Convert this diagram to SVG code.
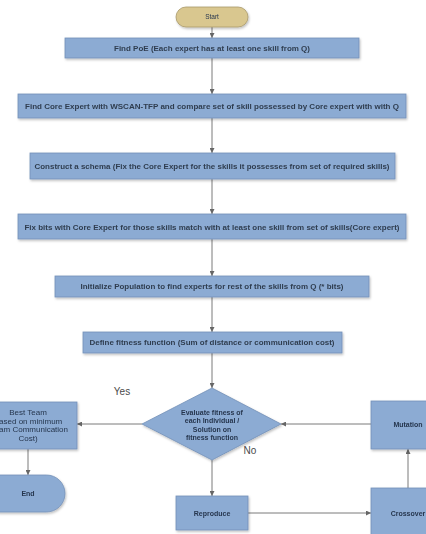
<svg xmlns="http://www.w3.org/2000/svg" width="426" height="534" viewBox="0 0 426 534">
<style>
.box{fill:#8cabd3;stroke:#7390b8;stroke-width:0.8}
.term{fill:#d9c78f;stroke:#a9996a;stroke-width:0.8}
.t{font-family:"Liberation Sans",Arial,sans-serif;font-size:7px;font-weight:bold;fill:#2f3d4f;text-anchor:middle}
.r{font-family:"Liberation Sans",Arial,sans-serif;font-size:7.5px;fill:#26364e;text-anchor:middle}
.b{font-weight:bold;font-size:7px}
.lbl{font-family:"Liberation Sans",Arial,sans-serif;font-size:10px;fill:#4a4a4a;text-anchor:middle}
.c{stroke:#7a7a7a;stroke-width:1;fill:none;marker-end:url(#ah)}
</style>
<defs>
<marker id="ah" viewBox="0 0 10 10" refX="10" refY="5" markerWidth="5" markerHeight="5" orient="auto" markerUnits="userSpaceOnUse"><path d="M0,0 L10,5 L0,10 z" fill="#666"/></marker>
<filter id="sh" x="-10%" y="-20%" width="120%" height="160%"><feDropShadow dx="1" dy="1.5" stdDeviation="0.8" flood-color="#000" flood-opacity="0.25"/></filter>
</defs>
<rect width="426" height="534" fill="#ffffff"/>
<g id="connectors">
<line class="c" x1="212" y1="27" x2="212" y2="38"/>
<line class="c" x1="212" y1="58" x2="212" y2="94"/>
<line class="c" x1="212" y1="118" x2="212" y2="153"/>
<line class="c" x1="212" y1="179" x2="212" y2="214"/>
<line class="c" x1="212" y1="239" x2="212" y2="276"/>
<line class="c" x1="212" y1="297" x2="212" y2="332"/>
<line class="c" x1="212" y1="353" x2="212" y2="388"/>
<line class="c" x1="142" y1="424" x2="77" y2="424"/>
<line class="c" x1="28" y1="449" x2="28" y2="475"/>
<line class="c" x1="212" y1="460" x2="212" y2="496"/>
<line class="c" x1="248" y1="513" x2="371" y2="513"/>
<line class="c" x1="408" y1="488" x2="408" y2="449"/>
<line class="c" x1="371" y1="424" x2="281" y2="424"/>
<text class="lbl" x="122" y="395">Yes</text>
<text class="lbl" x="250" y="454">No</text>
</g>
<g id="start" filter="url(#sh)">
<rect class="term" x="176" y="7" width="72" height="20" rx="10"/>
<text class="r" x="212" y="19" style="font-size:6.5px">Start</text>
</g>
<g id="findPoE" filter="url(#sh)">
<rect class="box" x="65" y="38" width="294" height="20"/>
<text class="t" x="212" y="50.5" textLength="196" lengthAdjust="spacingAndGlyphs">Find PoE (Each expert has at least one skill from Q)</text>
</g>
<g id="coreExpert" filter="url(#sh)">
<rect class="box" x="18" y="94" width="388" height="24"/>
<text class="t" x="212" y="108.5" textLength="374" lengthAdjust="spacingAndGlyphs">Find Core Expert with WSCAN-TFP and compare set of skill possessed by Core expert with  with Q</text>
</g>
<g id="schema" filter="url(#sh)">
<rect class="box" x="30" y="153" width="365" height="26"/>
<text class="t" x="212" y="168.5" textLength="355" lengthAdjust="spacingAndGlyphs">Construct a schema (Fix the Core Expert for the skills it possesses from set of required skills)</text>
</g>
<g id="fixBits" filter="url(#sh)">
<rect class="box" x="18" y="214" width="388" height="25"/>
<text class="t" x="212" y="229.5" textLength="375" lengthAdjust="spacingAndGlyphs">Fix bits with Core Expert for those skills match with at least one skill from set of skills(Core expert)</text>
</g>
<g id="initPop" filter="url(#sh)">
<rect class="box" x="55" y="276" width="314" height="21"/>
<text class="t" x="212" y="288.5" textLength="263" lengthAdjust="spacingAndGlyphs">Initialize Population to find experts for rest of the skills from Q (* bits)</text>
</g>
<g id="fitness" filter="url(#sh)">
<rect class="box" x="83" y="332" width="259" height="21"/>
<text class="t" x="212" y="344.5" textLength="245" lengthAdjust="spacingAndGlyphs">Define fitness function (Sum of distance or communication cost)</text>
</g>
<g id="evaluate" filter="url(#sh)">
<polygon class="box" points="212,388 281,424 212,460 142,424"/>
<text class="r" x="212" y="414.5" style="font-weight:bold;font-size:7px">Evaluate fitness of</text>
<text class="r" x="212" y="423" style="font-weight:bold;font-size:7px">each Individual /</text>
<text class="r" x="212" y="431.5" style="font-weight:bold;font-size:7px">Solution on</text>
<text class="r" x="212" y="440" style="font-weight:bold;font-size:7px">fitness function</text>
</g>
<g id="bestTeam" filter="url(#sh)">
<rect class="box" x="-22" y="402" width="99" height="47"/>
<text class="r" x="28" y="415" style="font-size:8px">Best Team</text>
<text class="r" x="28" y="423.5" style="font-size:8px">Based on minimum</text>
<text class="r" x="28" y="432" style="font-size:8px">(Team Communication</text>
<text class="r" x="28" y="440.5" style="font-size:8px">Cost)</text>
</g>
<g id="end" filter="url(#sh)">
<rect class="box" x="-20" y="475" width="85" height="37" rx="18.5"/>
<text class="r" x="28" y="496" style="font-weight:bold;font-size:7px">End</text>
</g>
<g id="reproduce" filter="url(#sh)">
<rect class="box" x="176" y="496" width="72" height="34"/>
<text class="r" x="212" y="516" style="font-weight:bold;font-size:7px">Reproduce</text>
</g>
<g id="crossover" filter="url(#sh)">
<rect class="box" x="371" y="488" width="75" height="56"/>
<text class="r" x="408" y="516" style="font-weight:bold;font-size:7px">Crossover</text>
</g>
<g id="mutation" filter="url(#sh)">
<rect class="box" x="371" y="401" width="75" height="48"/>
<text class="r" x="408" y="427" style="font-weight:bold;font-size:7px">Mutation</text>
</g>
</svg>
